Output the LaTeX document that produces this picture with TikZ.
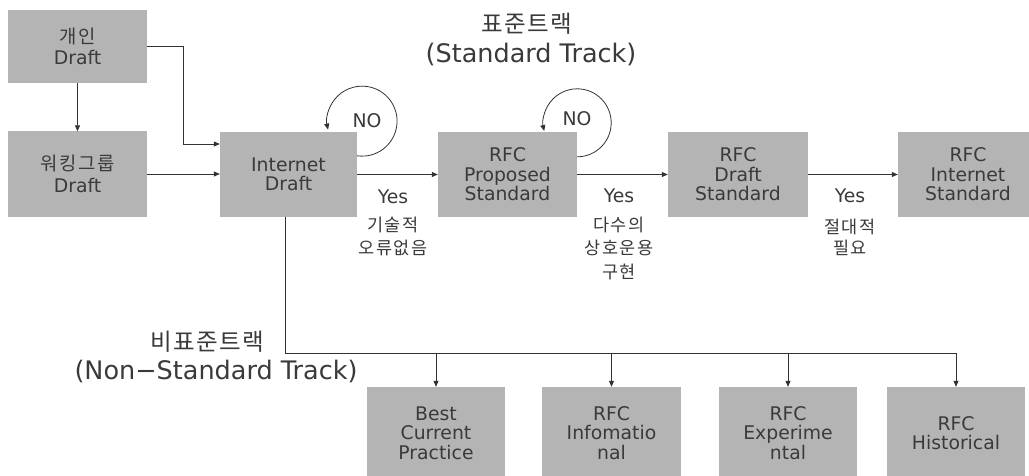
\documentclass[tikz,border=0pt]{standalone}
\usepackage{fontspec}
\setmainfont{DejaVu Sans}
\newfontfamily\kr{Noto Sans CJK KR}
\newfontfamily\krs{Noto Sans CJK KR}[LetterSpace=8]
\newfontfamily\krt{Noto Sans CJK KR}[LetterSpace=6]
\usetikzlibrary{arrows.meta,calc}
\definecolor{boxgray}{HTML}{B4B4B4}
\definecolor{txt}{HTML}{3A3A3A}
\definecolor{ln}{HTML}{333333}
\tikzset{
  stagebox/.style={fill=boxgray, draw=none, align=center, text=txt, inner sep=0pt,
    font=\fontsize{18.8}{19.5}\selectfont},
  conn/.style={draw=ln, line width=0.8pt},
  arr/.style={conn, -{Triangle[length=6pt,width=5pt]}},
  lbl/.style={text=txt, inner sep=0pt, font=\fontsize{18.8}{19.5}\selectfont},
  krlbl/.style={text=txt, inner sep=0pt, font=\krs\fontsize{17.5}{19}\selectfont},
  ttl/.style={text=txt, inner sep=0pt, font=\fontsize{25.5}{28}\selectfont},
  krttl/.style={text=txt, inner sep=0pt, font=\krt\fontsize{23.5}{26}\selectfont},
}
\begin{document}
\begin{tikzpicture}[x=1pt,y=1pt]
\useasboundingbox (0,0) rectangle (1029,475);
\fill[white] (0,0) rectangle (1029,475);
% top row boxes
\node[stagebox, minimum width=139pt, minimum height=73pt] (p) at (77.5,428.5) {{\krs 개인}\\[2pt]Draft};
\node[stagebox, minimum width=139pt, minimum height=85pt] (w) at (77.5,301) {{\krs 워킹그룹}\\[2pt]Draft};
\node[stagebox, minimum width=137pt, minimum height=85pt] (id) at (288.5,300.5) {Internet\\Draft};
\node[stagebox, minimum width=139pt, minimum height=85pt] (ps) at (507.5,300.5) {RFC\\Proposed\\Standard};
\node[stagebox, minimum width=140pt, minimum height=85pt] (ds) at (738,300.5) {RFC\\Draft\\Standard};
\node[stagebox, minimum width=140pt, minimum height=85pt] (is) at (968,300.5) {RFC\\Internet\\Standard};
% bottom row boxes
\node[stagebox, minimum width=138pt, minimum height=92pt] (bcp) at (436,42) {Best\\Current\\Practice};
\node[stagebox, minimum width=139pt, minimum height=92pt] (inf) at (611.5,42) {RFC\\Infomatio\\nal};
\node[stagebox, minimum width=138pt, minimum height=92pt] (exp) at (788,42) {RFC\\Experime\\ntal};
\node[stagebox, minimum width=138pt, minimum height=92pt] (his) at (956,42) {RFC\\Historical};
% titles
\node[krttl] (t1) at (527,451) {표준트랙};
\node[ttl] (t2) at (531,421) {(Standard Track)};
\node[krttl] (t3) at (207,133) {비표준트랙};
\node[ttl] (t4) at (216,104) {(Non−Standard Track)};
% connectors
\draw[arr] (p) -- (w);
\draw[arr] (p.east) -- ++(36,0) |- ([yshift=30.5pt]id.west);
\draw[arr] (w.east) -- (id.west |- w.east);
\draw[arr] (id.east) -- (ps.west);
\draw[arr] (ps.east) -- (ds.west);
\draw[arr] (ds.east) -- (is.west);
% loops
\draw[arr] ([yshift=-24pt]id.north east) arc[start angle=-98, end angle=194, radius=35pt];
\node[lbl] (no1) at (367,354) {NO};
\draw[arr] ([yshift=-25pt]ps.north east) arc[start angle=-90, end angle=194, radius=34pt];
\node[lbl] (no2) at (577,356) {NO};
% yes labels
\node[lbl] (y1) at (393,278) {Yes};
\node[krlbl] (k1a) at (393,250) {기술적};
\node[krlbl] (k1b) at (393,227) {오류없음};
\node[lbl] (y2) at (619,279) {Yes};
\node[krlbl] (k2a) at (619,250) {다수의};
\node[krlbl] (k2b) at (619,227) {상호운용};
\node[krlbl] (k2c) at (619,203) {구현};
\node[lbl] (y3) at (850,279) {Yes};
\node[krlbl] (k3a) at (850,248) {절대적};
\node[krlbl] (k3b) at (850,227) {필요};
% non-standard bus
\coordinate (busL) at (285,122);
\coordinate (busR) at (956,122);
\draw[conn] ([xshift=-3.5pt]id.south) -- (busL) -- (busR);
\draw[arr] (bcp.north |- busL) -- (bcp.north);
\draw[arr] (inf.north |- busL) -- (inf.north);
\draw[arr] (exp.north |- busL) -- (exp.north);
\draw[arr] (busR) -- (his.north);
\end{tikzpicture}
\end{document}
